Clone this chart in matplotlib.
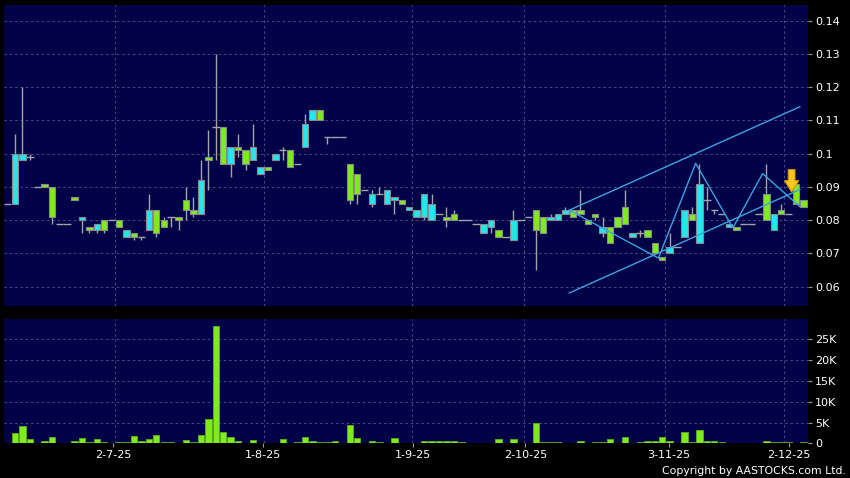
import matplotlib
matplotlib.use("Agg")
import matplotlib.pyplot as plt
from matplotlib.patches import Rectangle, FancyArrow
from matplotlib.ticker import FuncFormatter

# ---------------- data ----------------
opens = [0.085, 0.085, 0.098, 0.099, 0.090, 0.091, 0.090, 0.079, 0.079, 0.087,
         0.080, 0.078, 0.077, 0.080, 0.080, 0.080, 0.075, 0.076, 0.075, 0.077,
         0.083, 0.080, 0.081, 0.081, 0.086, 0.083, 0.082, 0.099, 0.108, 0.108,
         0.097, 0.102, 0.101, 0.098, 0.094, 0.096, 0.098, 0.101, 0.101, 0.097,
         0.102, 0.110, 0.113, 0.105, 0.105, 0.105, 0.097, 0.094, 0.089, 0.085,
         0.088, 0.085, 0.086, 0.086, 0.083, 0.081, 0.081, 0.080, 0.082, 0.081,
         0.082, 0.080, 0.080, 0.079, 0.076, 0.078, 0.077, 0.075, 0.074, 0.080,
         0.081, 0.083, 0.081, 0.080, 0.080, 0.082, 0.083, 0.083, 0.080, 0.082,
         0.076, 0.078, 0.081, 0.084, 0.075, 0.076, 0.077, 0.073, 0.069, 0.070,
         0.072, 0.075, 0.082, 0.073, 0.086, 0.083, 0.082, 0.078, 0.078, 0.079,
         0.079, 0.082, 0.088, 0.077, 0.083, 0.082, 0.091, 0.086]
closes = [0.085, 0.100, 0.100, 0.099, 0.090, 0.090, 0.081, 0.079, 0.079, 0.086,
          0.081, 0.077, 0.079, 0.077, 0.080, 0.078, 0.077, 0.075, 0.075, 0.083,
          0.076, 0.078, 0.081, 0.080, 0.083, 0.082, 0.092, 0.098, 0.108, 0.097,
          0.102, 0.101, 0.097, 0.102, 0.096, 0.095, 0.100, 0.101, 0.096, 0.097,
          0.109, 0.113, 0.110, 0.105, 0.105, 0.105, 0.086, 0.088, 0.089, 0.088,
          0.088, 0.089, 0.087, 0.085, 0.084, 0.083, 0.088, 0.085, 0.082, 0.080,
          0.080, 0.080, 0.080, 0.079, 0.079, 0.080, 0.075, 0.075, 0.080, 0.080,
          0.081, 0.077, 0.076, 0.081, 0.082, 0.083, 0.081, 0.082, 0.079, 0.081,
          0.078, 0.073, 0.078, 0.079, 0.076, 0.076, 0.075, 0.070, 0.068, 0.072,
          0.072, 0.083, 0.080, 0.091, 0.086, 0.083, 0.082, 0.079, 0.077, 0.079,
          0.079, 0.082, 0.080, 0.082, 0.082, 0.082, 0.085, 0.084]
highs = [0.085, 0.106, 0.120, 0.100, 0.090, 0.091, 0.090, 0.079, 0.079, 0.087,
         0.081, 0.078, 0.079, 0.080, 0.080, 0.080, 0.077, 0.076, 0.075, 0.088,
         0.083, 0.081, 0.081, 0.081, 0.090, 0.087, 0.098, 0.107, 0.130, 0.108,
         0.102, 0.106, 0.101, 0.109, 0.096, 0.096, 0.100, 0.102, 0.101, 0.097,
         0.112, 0.113, 0.113, 0.105, 0.105, 0.105, 0.097, 0.094, 0.089, 0.089,
         0.090, 0.089, 0.087, 0.086, 0.084, 0.083, 0.088, 0.088, 0.082, 0.084,
         0.083, 0.080, 0.080, 0.079, 0.079, 0.080, 0.077, 0.075, 0.083, 0.080,
         0.081, 0.083, 0.081, 0.082, 0.082, 0.084, 0.083, 0.089, 0.080, 0.082,
         0.081, 0.078, 0.081, 0.089, 0.076, 0.077, 0.077, 0.073, 0.069, 0.076,
         0.072, 0.083, 0.084, 0.097, 0.090, 0.083, 0.082, 0.079, 0.078, 0.079,
         0.079, 0.082, 0.097, 0.082, 0.085, 0.082, 0.091, 0.086]
lows = [0.085, 0.085, 0.098, 0.098, 0.090, 0.090, 0.079, 0.079, 0.079, 0.086,
        0.076, 0.076, 0.076, 0.076, 0.080, 0.078, 0.075, 0.074, 0.074, 0.077,
        0.075, 0.078, 0.078, 0.077, 0.080, 0.081, 0.082, 0.089, 0.098, 0.097,
        0.093, 0.099, 0.095, 0.098, 0.094, 0.095, 0.098, 0.098, 0.096, 0.097,
        0.102, 0.110, 0.110, 0.103, 0.105, 0.105, 0.085, 0.085, 0.089, 0.084,
        0.088, 0.085, 0.082, 0.085, 0.083, 0.081, 0.080, 0.080, 0.082, 0.078,
        0.080, 0.080, 0.080, 0.079, 0.076, 0.076, 0.075, 0.075, 0.074, 0.080,
        0.081, 0.065, 0.076, 0.080, 0.080, 0.082, 0.081, 0.082, 0.079, 0.080,
        0.075, 0.073, 0.078, 0.079, 0.075, 0.075, 0.075, 0.070, 0.068, 0.070,
        0.072, 0.075, 0.080, 0.073, 0.083, 0.082, 0.082, 0.078, 0.077, 0.079,
        0.079, 0.082, 0.080, 0.077, 0.082, 0.082, 0.085, 0.084]
volumes = [0, 2400, 4200, 1000, 0, 650, 1600, 0, 0, 500,
           1200, 250, 1000, 300, 50, 200, 200, 1800, 650, 1100,
           1900, 250, 400, 150, 700, 250, 2000, 5800, 28300, 2600,
           1500, 500, 100, 700, 0, 50, 0, 1000, 100, 250,
           1500, 650, 400, 300, 500, 0, 4500, 1300, 0, 650,
           400, 150, 1300, 0, 150, 150, 550, 550, 500, 500,
           500, 250, 50, 50, 50, 150, 1050, 50, 1000, 50,
           50, 4900, 300, 250, 250, 50, 50, 500, 100, 250,
           250, 1050, 50, 1450, 100, 250, 550, 550, 1600, 550,
           50, 2800, 250, 3300, 500, 500, 250, 50, 50, 50,
           50, 50, 500, 250, 200, 400, 50, 250]

date_labels = ["2-7-25", "1-8-25", "1-9-25", "2-10-25", "3-11-25", "2-12-25"]
date_pos = [14.2, 34.3, 54.5, 69.6, 88.9, 105.0]
grid_pos = [14.45, 34.5, 54.4, 69.45, 88.4, 104.4]

price_ticks = [0.06, 0.07, 0.08, 0.09, 0.10, 0.11, 0.12, 0.13, 0.14]
vol_ticks = [0, 5000, 10000, 15000, 20000, 25000]

# trend lines (index, price)
upper_x = [75.5, 106.5]
upper_y = [0.0830, 0.1141]
lower_x = [75.5, 106.5]
lower_y = [0.0581, 0.0892]
zig_x = [75.5, 87.5, 92.5, 97.5, 101.5, 106.5]
zig_y = [0.0830, 0.0686, 0.0971, 0.0777, 0.0940, 0.0841]
arrow_x = 105.4
arrow_top = 0.0952
arrow_tip = 0.0885

# ---------------- style ----------------
BG = "#020248"
CYAN = "#22e6f0"
GREEN = "#7fea1e"
EDGE = "#8a8a8a"
WICK = "#a4a4a4"
GRID = "#4c4c84"
TREND = "#3ea2e2"

W, H = 850, 478
fig = plt.figure(figsize=(W / 100, H / 100), dpi=100, facecolor="black")
ax1 = fig.add_axes([4 / W, 1 - 306 / H, 804 / W, 301 / H])
ax2 = fig.add_axes([4 / W, 1 - 443.3 / H, 804 / W, (443.3 - 319) / H])

xlim = (-0.47, 107.6)
for ax in (ax1, ax2):
    ax.set_facecolor(BG)
    for s in ax.spines.values():
        s.set_visible(False)
    ax.set_xlim(*xlim)
    for gx in grid_pos:
        ax.axvline(gx, color=GRID, lw=0.7, dashes=(2.5, 3), zorder=0)
    ax.yaxis.tick_right()
    ax.tick_params(axis="y", colors="#9a9a9a", labelcolor="white", length=3,
                   width=0.8, pad=2, labelsize=8)

# price panel
ax1.set_ylim(0.0542, 0.1447)
ax1.set_yticks(price_ticks)
ax1.set_yticklabels([f"{v:g}" for v in price_ticks])
ax1.set_xticks([])
for p in price_ticks:
    ax1.axhline(p, color=GRID, lw=0.7, dashes=(2.5, 3), zorder=0)

bw = 0.86
for i in range(len(opens)):
    o, h, l, c = opens[i], highs[i], lows[i], closes[i]
    if h > l:
        ax1.plot([i, i], [l, h], color=WICK, lw=1, zorder=2, solid_capstyle="butt")
    if o == c:
        ax1.plot([i - 0.5, i + 0.5], [o, o], color=WICK, lw=1, zorder=3,
                 solid_capstyle="butt")
    else:
        col = CYAN if c > o else GREEN
        ax1.add_patch(Rectangle((i - bw / 2, min(o, c)), bw, abs(c - o),
                                facecolor=col, edgecolor=EDGE, lw=0.8, zorder=4))

ax1.plot(upper_x, upper_y, color=TREND, lw=1, zorder=5)
ax1.plot(lower_x, lower_y, color=TREND, lw=1, zorder=5)
ax1.plot(zig_x, zig_y, color=TREND, lw=1, zorder=5)
ax1.add_patch(FancyArrow(arrow_x, arrow_top, 0, arrow_tip - arrow_top,
                         width=0.9, head_width=1.9, head_length=0.0034,
                         length_includes_head=True, facecolor="#f7c61a",
                         edgecolor="#d99a00", lw=0.8, zorder=6))

# volume panel
ax2.set_ylim(0, 29900)
ax2.set_yticks(vol_ticks)
ax2.yaxis.set_major_formatter(FuncFormatter(lambda v, p: "0" if v == 0 else f"{int(v / 1000)}K"))
for v in vol_ticks[1:]:
    ax2.axhline(v, color=GRID, lw=0.7, dashes=(2.5, 3), zorder=0)
ax2.bar(range(len(volumes)), volumes, width=bw, color=GREEN, edgecolor="#5fb018",
        lw=0.6, zorder=3)
ax2.set_xticks(date_pos)
ax2.set_xticklabels(date_labels)
ax2.tick_params(axis="x", colors="#9a9a9a", labelcolor="white", length=3,
                width=0.8, pad=2, labelsize=8)

fig.text(846 / W, 1 - 471 / H, "Copyright by AASTOCKS.com Ltd.", color="white",
         fontsize=7.8, ha="right", va="center")

fig.savefig("out.png", dpi=100, facecolor="black")
